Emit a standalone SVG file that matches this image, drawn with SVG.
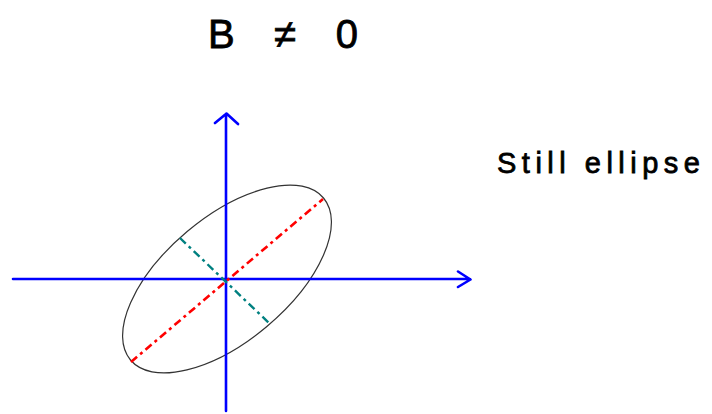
<svg xmlns="http://www.w3.org/2000/svg" width="712" height="414" viewBox="0 0 712 414">
<style>
.axis{stroke:#0000ff;stroke-width:2.6;fill:none;stroke-linecap:round;stroke-linejoin:round}
.major{stroke:#ff0000;stroke-width:2.6;stroke-dasharray:8 4 3 4;fill:none}
.minor{stroke:#008080;stroke-width:2.4;stroke-dasharray:8 4 3 4;fill:none}
.lbl{font-family:"Liberation Sans","DejaVu Sans",sans-serif;fill:#000;stroke:#000;stroke-width:0.8}
</style>
<rect width="712" height="414" fill="#fff"/>
<g id="title"><text class="lbl" x="208" y="48" font-size="40" textLength="150" lengthAdjust="spacing">B ≠ 0</text></g>
<g id="note"><text class="lbl" x="497" y="173" font-size="29" textLength="203" lengthAdjust="spacing">Still ellipse</text></g>
<g id="ellipse"><ellipse cx="227" cy="279" rx="126" ry="62" transform="rotate(-40 227 279)" fill="none" stroke="#333" stroke-width="1.2"/></g>
<g id="connectors">
<path class="axis" d="M13 279 H470 M458 271.5 L470.5 279.5 L458 287"/>
<path class="axis" d="M226 411 V114 M215 123 L226.5 113.5 L238 124"/>
<path class="major" d="M131 362 L323 199"/>
<path class="minor" d="M180 238 L269 323"/>
</g>
</svg>
